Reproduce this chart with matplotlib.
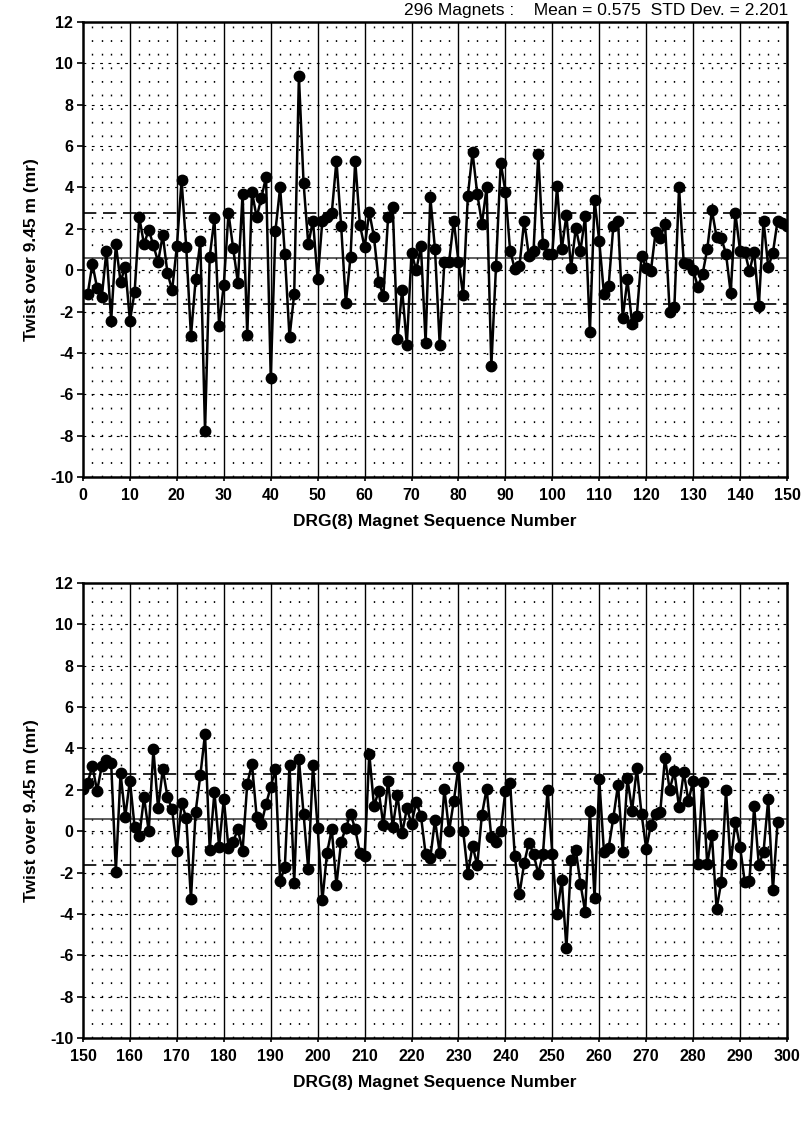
import numpy as np
import matplotlib
matplotlib.use("Agg")
from matplotlib import pyplot as plt

plt.rcParams['font.family'] = ['Liberation Sans', 'DejaVu Sans']
plt.rcParams['axes.unicode_minus'] = False

# twist values, magnets 1..150
top_twist = [
    -1.15, 0.3, -0.85, -1.3, 0.95, -2.45, 1.25, -0.55, 0.15, -2.45,
    -1.05, 2.55, 1.25, 1.95, 1.2, 0.4, 1.7, -0.15, -0.95, 1.15,
    4.35, 1.1, -3.2, -0.45, 1.4, -7.8, 0.65, 2.5, -2.7, -0.7,
    2.75, 1.05, -0.6, 3.7, -3.15, 3.8, 2.55, 3.5, 4.5, -5.2,
    1.9, 4.0, 0.8, -3.25, -1.15, 9.4, 4.2, 1.25, 2.4, -0.45,
    2.4, 2.55, 2.75, 5.3, 2.15, -1.6, 0.65, 5.3, 2.2, 1.1,
    2.8, 1.6, -0.55, -1.25, 2.55, 3.05, -3.35, -0.95, -3.6, 0.85,
    0.0, 1.15, -3.5, 3.55, 1.0, -3.6, 0.4, 0.4, 2.4, 0.4,
    -1.2, 3.6, 5.7, 3.7, 2.25, 4.0, -4.65, 0.2, 5.2, 3.8,
    0.95, 0.05, 0.2, 2.4, 0.7, 0.95, 5.6, 1.25, 0.8, 0.8,
    4.05, 1.0, 2.65, 0.1, 2.05, 0.95, 2.6, -3.0, 3.4, 1.4,
    -1.15, -0.75, 2.15, 2.4, -2.3, -0.45, -2.6, -2.2, 0.7, 0.1,
    -0.05, 1.85, 1.55, 2.25, -2.0, -1.8, 4.0, 0.35, 0.3, 0.0,
    -0.8, -0.2, 1.0, 2.9, 1.6, 1.55, 0.8, -1.1, 2.75, 0.95,
    0.9, -0.05, 0.9, -1.75, 2.4, 0.15, 0.85, 2.4, 2.3, 2.15,
]

# twist values, magnets 150..298 (second panel)
bottom_twist = [
    2.05, 2.35, 3.15, 1.95, 3.15, 3.45, 3.3, -1.95, 2.8, 0.7,
    2.45, 0.2, -0.25, 1.65, 0.0, 3.95, 1.1, 3.0, 1.65, 1.05,
    -0.95, 1.35, 0.65, -3.3, 0.95, 2.7, 4.7, -0.9, 1.9, -0.75,
    1.55, -0.8, -0.5, 0.1, -0.95, 2.3, 3.25, 0.7, 0.35, 1.3,
    2.15, 3.0, -2.4, -1.75, 3.2, -2.5, 3.5, 0.85, -1.85, 3.2,
    0.15, -3.35, -1.05, 0.1, -2.6, -0.5, 0.15, 0.85, 0.1, -1.05,
    -1.2, 3.75, 1.2, 1.95, 0.3, 2.45, 0.2, 1.75, -0.1, 1.1,
    0.35, 1.4, 0.75, -1.1, -1.3, 0.55, -1.05, 2.05, 0.0, 1.45,
    3.1, 0.0, -2.05, -0.7, -1.65, 0.8, 2.05, -0.3, -0.5, 0.0,
    1.95, 2.35, -1.2, -3.05, -1.55, -0.55, -1.1, -2.05, -1.1, 2.0,
    -1.1, -4.0, -2.35, -5.65, -1.4, -0.9, -2.55, -3.9, 1.0, -3.25,
    2.5, -1.0, -0.8, 0.65, 2.25, -1.0, 2.55, 1.0, 3.05, 0.85,
    -0.85, 0.3, 0.85, 0.95, 3.55, 2.0, 2.9, 1.15, 2.85, 1.45,
    2.45, -1.6, 2.4, -1.6, -0.2, -3.75, -2.45, 2.0, -1.6, 0.45,
    -0.75, -2.45, -2.4, 1.2, -1.65, -1.0, 1.55, -2.85, 0.45,
]

top_x = np.arange(1, len(top_twist) + 1)
bottom_x = np.arange(150, 150 + len(bottom_twist))

mean = 0.575
std = 2.201
header = "296 Magnets :    Mean = 0.575  STD Dev. = 2.201"
y_label = "Twist over 9.45 m (mr)"
x_label = "DRG(8) Magnet Sequence Number"


def draw_panel(ax, x, y, x0):
    ax.set_xlim(x0, x0 + 150)
    ax.set_ylim(-10, 12)

    # minor dotted columns every 2 units
    for xv in np.arange(x0, x0 + 150, 2):
        if (xv - x0) % 10 != 0:
            ax.axvline(xv, color='black', lw=1.0, ls=(0, (1.3, 8.5)), zorder=1)
    # solid decade lines
    for xv in np.arange(x0 + 10, x0 + 150, 10):
        ax.axvline(xv, color='black', lw=1.0, zorder=1)
    # horizontal dashed grid
    for yv in np.arange(-8, 12, 2):
        ax.axhline(yv, color='black', lw=0.8, ls=(0, (2.5, 5)), zorder=1)

    ax.axhline(mean, color='#333333', lw=1.1, zorder=2)
    ax.axhline(mean + std, color='black', lw=1.2, ls=(0, (8, 4)), zorder=2)
    ax.axhline(mean - std, color='black', lw=1.2, ls=(0, (8, 4)), zorder=2)

    ax.plot(x, y, color='black', lw=1.8, marker='o', markersize=7.5,
            markerfacecolor='black', markeredgecolor='black', zorder=3)

    ax.set_xticks(np.arange(x0, x0 + 151, 10))
    ax.set_yticks(np.arange(-10, 13, 2))
    ax.tick_params(axis='both', labelsize=11.5, width=1.2)
    ax.tick_params(axis='y', direction='out', length=4, pad=3)
    ax.tick_params(axis='x', direction='out', length=3, pad=5)
    for lbl in ax.get_xticklabels() + ax.get_yticklabels():
        lbl.set_fontweight('bold')
    for sp in ax.spines.values():
        sp.set_linewidth(1.8)
    ax.set_xlabel(x_label, fontsize=12.5, fontweight='bold', labelpad=8)
    ax.set_ylabel(y_label, fontsize=12.5, fontweight='bold', labelpad=8)


fig = plt.figure(figsize=(8.03, 11.22), dpi=100)
ax1 = fig.add_axes([83 / 803, 1 - 477 / 1122, 704 / 803, 455 / 1122])
ax2 = fig.add_axes([83 / 803, 1 - 1038 / 1122, 704 / 803, 455 / 1122])

draw_panel(ax1, top_x, top_twist, 0)
draw_panel(ax2, bottom_x, bottom_twist, 150)

fig.text(788 / 803, 1 - 10 / 1122, header, ha='right', va='center', fontsize=12.5)

plt.savefig('out.png', dpi=100)
plt.close()
